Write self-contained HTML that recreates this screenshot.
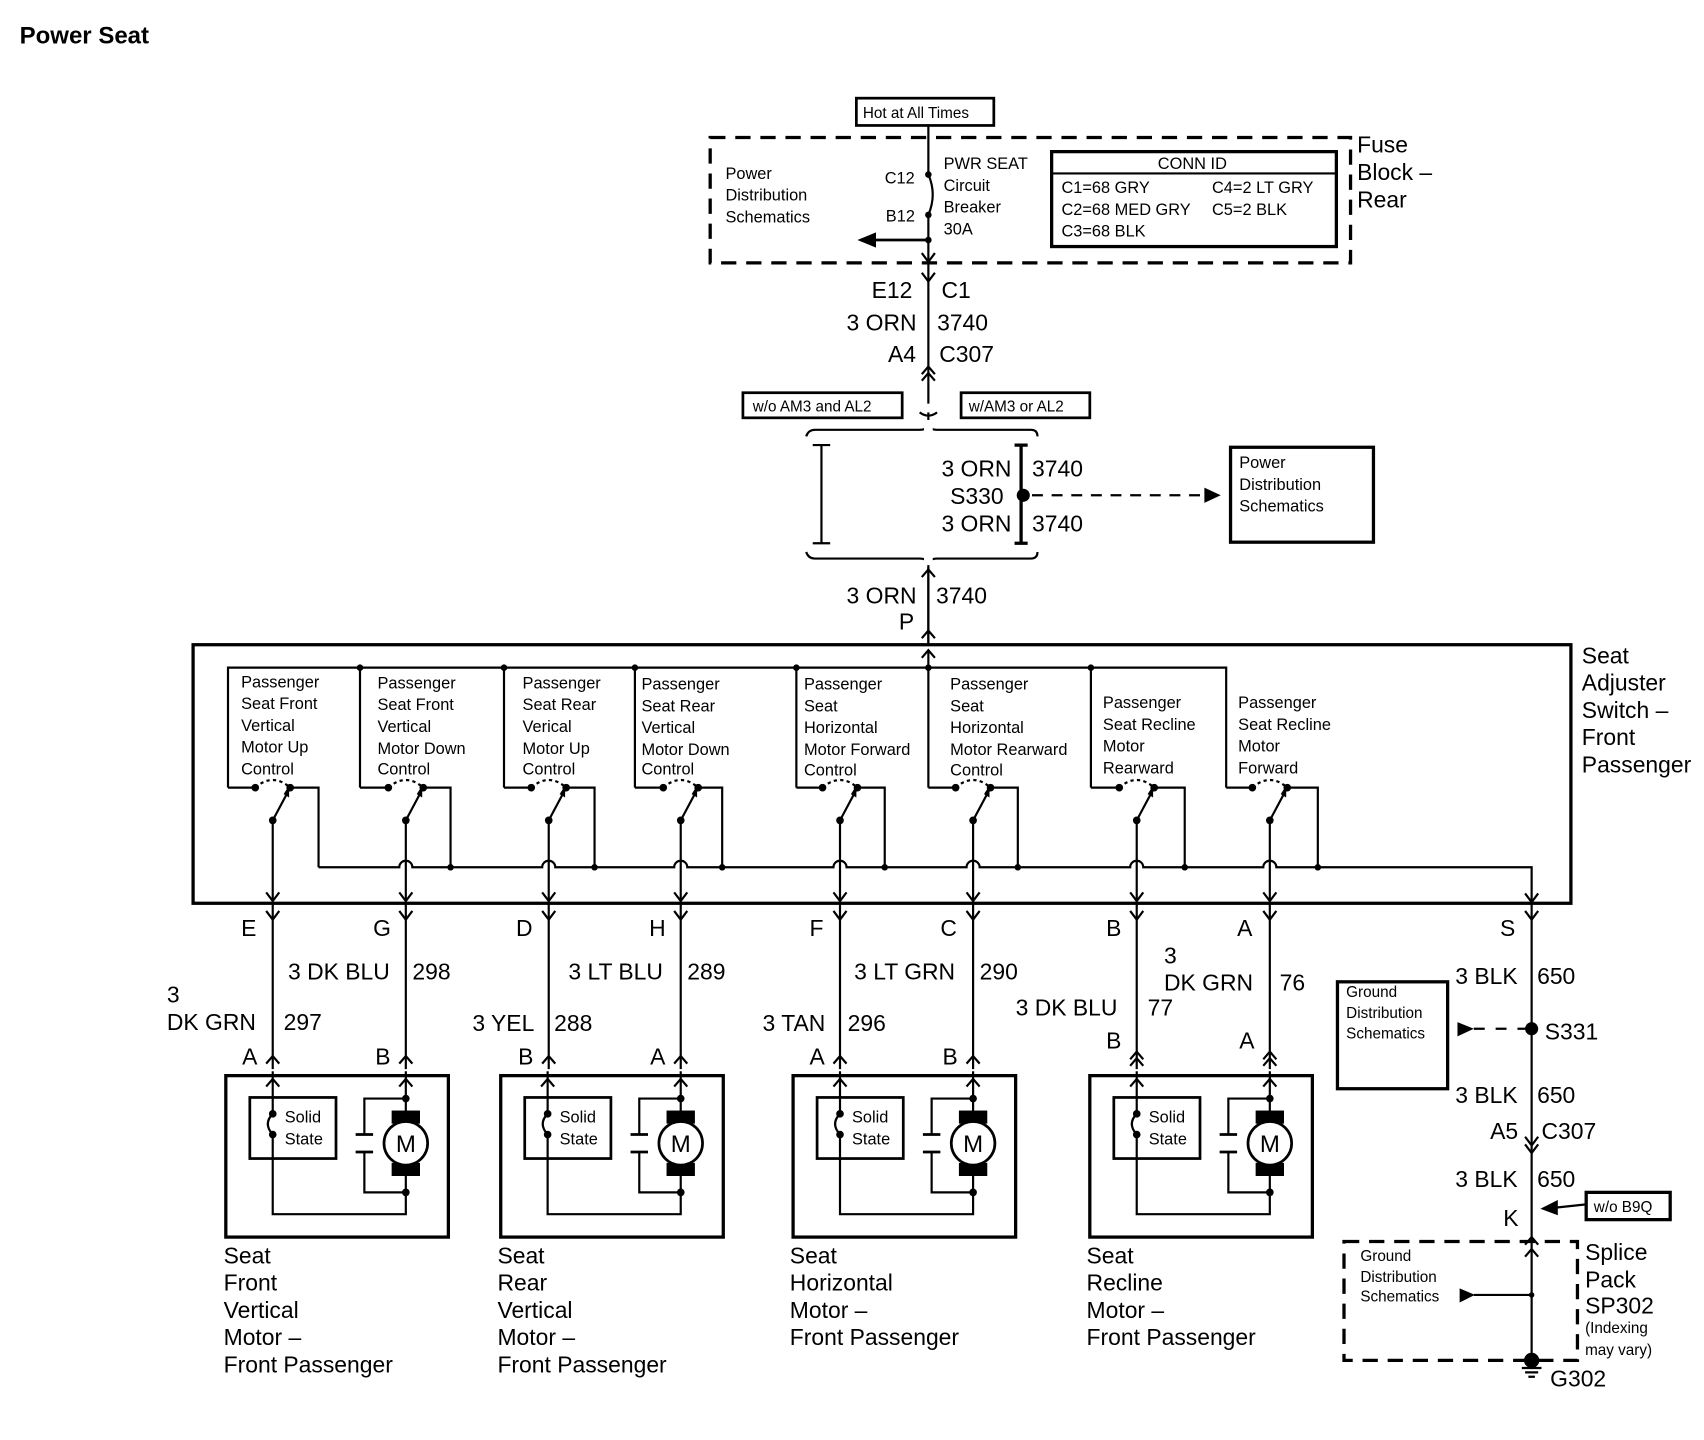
<!DOCTYPE html>
<html><head><meta charset="utf-8"><style>
html,body{margin:0;padding:0;background:#fff}
svg{display:block}
text{font-family:"Liberation Sans",Arial,sans-serif;fill:#000}
.s{font-size:15px}
.m{font-size:14px}
.L{font-size:21px}
</style></head><body>
<svg width="1704" height="1440" viewBox="0 0 1560 1320" xmlns="http://www.w3.org/2000/svg">
<defs>
<g id="sw">
 <line x1="16" y1="30" x2="32" y2="0" stroke="#000" stroke-width="2"/>
 <path d="M0 0 Q16 -14 32 0" fill="none" stroke="#000" stroke-width="2" stroke-dasharray="3,3"/>
 <circle cx="0" cy="0" r="3.5"/><circle cx="32" cy="0" r="3.5"/><circle cx="16" cy="30" r="3.5"/>
 <path d="M26 6 L31 -2 L31 9 Z"/>
 <line x1="16" y1="30" x2="16" y2="104" stroke="#000" stroke-width="2"/>
 <path d="M10 96 L16 104 L22 96" fill="none" stroke="#000" stroke-width="2"/>
</g>
<g id="fork"><path d="M-6 -8 L0 0 L6 -8" fill="none" stroke="#000" stroke-width="2"/></g>
<g id="chev"><path d="M-6 7 L0 0 L6 7" fill="none" stroke="#000" stroke-width="2"/></g>
<g id="motor">
 <rect x="0" y="0" width="204" height="148" fill="none" stroke="#000" stroke-width="3"/>
 <rect x="22" y="20" width="79" height="56" fill="none" stroke="#000" stroke-width="2.5"/>
 <line x1="43" y1="-4" x2="43" y2="35" stroke="#000" stroke-width="2"/>
 <circle cx="43" cy="35" r="3.5"/><circle cx="43" cy="54" r="3.5"/>
 <path d="M43 35 Q34 44 43 54" fill="none" stroke="#000" stroke-width="2"/>
 <polyline points="43,54 43,127 165,127 165,107" fill="none" stroke="#000" stroke-width="2"/>
 <path d="M37 10 L43 3 L49 10" fill="none" stroke="#000" stroke-width="2"/>
 <line x1="165" y1="-4" x2="165" y2="107" stroke="#000" stroke-width="2"/>
 <path d="M159 10 L165 3 L171 10" fill="none" stroke="#000" stroke-width="2"/>
 <circle cx="165" cy="21" r="3.5"/><circle cx="165" cy="107" r="3.5"/>
 <polyline points="165,21 127,21 127,54" fill="none" stroke="#000" stroke-width="2"/>
 <polyline points="127,70 127,107 165,107" fill="none" stroke="#000" stroke-width="2"/>
 <line x1="119" y1="54" x2="135" y2="54" stroke="#000" stroke-width="2.5"/>
 <line x1="119" y1="70" x2="135" y2="70" stroke="#000" stroke-width="2.5"/>
 <rect x="152" y="32" width="26" height="12"/><rect x="152" y="80" width="26" height="12"/>
 <circle cx="165" cy="62" r="20" fill="#fff" stroke="#000" stroke-width="2.5"/>
 <text x="165" y="70" font-size="22" text-anchor="middle">M</text>
 <text x="54" y="43" class="s">Solid</text><text x="54" y="63" class="s">State</text>
</g>
</defs>

<text x="17" y="40" font-size="22" font-weight="bold">Power Seat</text>

<!-- Fuse block -->
<rect x="784" y="90" width="126" height="25" fill="none" stroke="#000" stroke-width="2.5"/>
<text x="790" y="108" class="m">Hot at All Times</text>
<rect x="650" y="126" width="587" height="115" fill="none" stroke="#000" stroke-width="3" stroke-dasharray="14,9"/>
<line x1="850" y1="115" x2="850" y2="160" stroke="#000" stroke-width="2"/>
<circle cx="850" cy="160" r="3"/><circle cx="850" cy="197" r="3"/>
<path d="M850 160 Q858 178 850 197" fill="none" stroke="#000" stroke-width="2"/>
<line x1="850" y1="197" x2="850" y2="590" stroke="#000" stroke-width="2"/>
<circle cx="850" cy="220" r="3"/>
<line x1="800" y1="220" x2="850" y2="220" stroke="#000" stroke-width="2.5"/>
<path d="M785 220 L802 213 L802 227 Z"/>
<path d="M844 232 L850 240 L856 232" fill="none" stroke="#000" stroke-width="2"/>
<text x="664" y="164" class="s">Power</text><text x="664" y="184" class="s">Distribution</text><text x="664" y="204" class="s">Schematics</text>
<text x="810" y="168" class="s">C12</text><text x="811" y="203" class="s">B12</text>
<text x="864" y="155" class="s">PWR SEAT</text><text x="864" y="175" class="s">Circuit</text><text x="864" y="195" class="s">Breaker</text><text x="864" y="215" class="s">30A</text>
<rect x="963" y="139" width="261" height="87" fill="none" stroke="#000" stroke-width="3"/>
<line x1="963" y1="159" x2="1224" y2="159" stroke="#000" stroke-width="2"/>
<text x="1092" y="155" class="s" text-anchor="middle">CONN ID</text>
<text x="972" y="177" class="s">C1=68 GRY</text><text x="1110" y="177" class="s">C4=2 LT GRY</text>
<text x="972" y="197" class="s">C2=68 MED GRY</text><text x="1110" y="197" class="s">C5=2 BLK</text>
<text x="972" y="217" class="s">C3=68 BLK</text>
<text x="1243" y="140" class="L">Fuse</text><text x="1243" y="165" class="L">Block –</text><text x="1243" y="190" class="L">Rear</text>

<use href="#fork" x="850" y="258"/>
<text x="798" y="273" class="L">E12</text><text x="862" y="273" class="L">C1</text>
<text x="775" y="303" class="L">3 ORN</text><text x="858" y="303" class="L">3740</text>
<text x="813" y="332" class="L">A4</text><text x="860" y="332" class="L">C307</text>
<use href="#chev" x="850" y="336"/><use href="#chev" x="850" y="342"/>
<rect x="680" y="360" width="146" height="23" fill="none" stroke="#000" stroke-width="2.5"/>
<text x="689" y="377" class="m">w/o AM3 and AL2</text>
<rect x="880" y="360" width="118" height="23" fill="none" stroke="#000" stroke-width="2.5"/>
<text x="887" y="377" class="m">w/AM3 or AL2</text>
<path d="M842 378 Q850 384 858 378" fill="none" stroke="#000" stroke-width="2" />
<rect x="846" y="370" width="8" height="8" fill="#fff"/>

<!-- brace -->
<path d="M738 400 Q740 394 746 394 L842 394 Q850 394 850 388 Q850 394 858 394 L944 394 Q950 394 950 400" fill="none" stroke="#000" stroke-width="2"/>
<path d="M738 506 Q740 512 746 512 L842 512 Q850 512 850 518 Q850 512 858 512 L944 512 Q950 512 950 506" fill="none" stroke="#000" stroke-width="2"/>
<path d="M744 408 L760 408 M752 408 L752 498 M744 498 L760 498" fill="none" stroke="#000" stroke-width="2"/>
<path d="M929 408 L941 408 M935 408 L935 498 M929 498 L941 498" fill="none" stroke="#000" stroke-width="3"/>
<circle cx="937" cy="454" r="6"/>
<line x1="945" y1="454" x2="1105" y2="454" stroke="#000" stroke-width="2" stroke-dasharray="10,8"/>
<path d="M1118 454 L1103 447 L1103 461 Z"/>
<text x="862" y="437" class="L">3 ORN</text><text x="945" y="437" class="L">3740</text>
<text x="870" y="462" class="L">S330</text>
<text x="862" y="487" class="L">3 ORN</text><text x="945" y="487" class="L">3740</text>
<rect x="1127" y="410" width="131" height="87" fill="none" stroke="#000" stroke-width="3"/>
<text x="1135" y="429" class="s">Power</text><text x="1135" y="449" class="s">Distribution</text><text x="1135" y="469" class="s">Schematics</text>
<rect x="846" y="385" width="8" height="135" fill="#fff"/>
<line x1="850" y1="518" x2="850" y2="590" stroke="#000" stroke-width="2"/>
<use href="#chev" x="850" y="522"/>
<text x="775" y="553" class="L">3 ORN</text><text x="857" y="553" class="L">3740</text>
<text x="823" y="577" class="L">P</text>
<use href="#chev" x="850" y="578"/>

<!-- switch box -->
<rect x="176" y="591" width="1263" height="237" fill="none" stroke="#000" stroke-width="3"/>
<text x="1449" y="608" class="L">Seat</text><text x="1449" y="633" class="L">Adjuster</text><text x="1449" y="658" class="L">Switch –</text><text x="1449" y="683" class="L">Front</text><text x="1449" y="708" class="L">Passenger</text>
<line x1="850" y1="597" x2="850" y2="722" stroke="#000" stroke-width="2"/>
<path d="M844 603 L850 596 L856 603" fill="none" stroke="#000" stroke-width="2"/>
<polyline points="208,722 208,612 1123,612 1123,722" fill="none" stroke="#000" stroke-width="2"/>
<g stroke="#000" stroke-width="2" fill="none">
<line x1="329" y1="612" x2="329" y2="722"/><line x1="461" y1="612" x2="461" y2="722"/><line x1="581" y1="612" x2="581" y2="722"/><line x1="729" y1="612" x2="729" y2="722"/><line x1="999" y1="612" x2="999" y2="722"/>
<path d="M208 722H233 M329 722H355 M461 722H486 M581 722H607 M729 722H753 M850 722H875 M999 722H1025 M1123 722H1147"/>
<path d="M265 722H291V795 M387 722H412V795 M518 722H544V795 M639 722H661V795 M785 722H810V795 M907 722H932V795 M1057 722H1085V795 M1179 722H1207V795"/>
<path d="M291 795 H365 a6 6 0 0 1 12 0 H496 a6 6 0 0 1 12 0 H617 a6 6 0 0 1 12 0 H763 a6 6 0 0 1 12 0 H885 a6 6 0 0 1 12 0 H1035 a6 6 0 0 1 12 0 H1157 a6 6 0 0 1 12 0 H1403 V827"/>
<path d="M1397 819 L1403 827 L1409 819"/>
</g>
<g>
<circle cx="329" cy="612" r="3"/><circle cx="461" cy="612" r="3"/><circle cx="581" cy="612" r="3"/><circle cx="729" cy="612" r="3"/><circle cx="850" cy="612" r="3"/><circle cx="999" cy="612" r="3"/>
<circle cx="412" cy="795" r="3"/><circle cx="544" cy="795" r="3"/><circle cx="661" cy="795" r="3"/><circle cx="810" cy="795" r="3"/><circle cx="932" cy="795" r="3"/><circle cx="1085" cy="795" r="3"/><circle cx="1207" cy="795" r="3"/>
</g>
<use href="#sw" x="233" y="722"/><use href="#sw" x="355" y="722"/><use href="#sw" x="486" y="722"/><use href="#sw" x="607" y="722"/>
<use href="#sw" x="753" y="722"/><use href="#sw" x="875" y="722"/><use href="#sw" x="1025" y="722"/><use href="#sw" x="1147" y="722"/>
<g class="s">
<text x="220" y="630">Passenger</text><text x="220" y="650">Seat Front</text><text x="220" y="670">Vertical</text><text x="220" y="690">Motor Up</text><text x="220" y="710">Control</text>
<text x="345" y="631">Passenger</text><text x="345" y="651">Seat Front</text><text x="345" y="671">Vertical</text><text x="345" y="691">Motor Down</text><text x="345" y="710">Control</text>
<text x="478" y="631">Passenger</text><text x="478" y="651">Seat Rear</text><text x="478" y="671">Verical</text><text x="478" y="691">Motor Up</text><text x="478" y="710">Control</text>
<text x="587" y="632">Passenger</text><text x="587" y="652">Seat Rear</text><text x="587" y="672">Vertical</text><text x="587" y="692">Motor Down</text><text x="587" y="710">Control</text>
<text x="736" y="632">Passenger</text><text x="736" y="652">Seat</text><text x="736" y="672">Horizontal</text><text x="736" y="692">Motor Forward</text><text x="736" y="711">Control</text>
<text x="870" y="632">Passenger</text><text x="870" y="652">Seat</text><text x="870" y="672">Horizontal</text><text x="870" y="692">Motor Rearward</text><text x="870" y="711">Control</text>
<text x="1010" y="649">Passenger</text><text x="1010" y="669">Seat Recline</text><text x="1010" y="689">Motor</text><text x="1010" y="709">Rearward</text>
<text x="1134" y="649">Passenger</text><text x="1134" y="669">Seat Recline</text><text x="1134" y="689">Motor</text><text x="1134" y="709">Forward</text>
</g>

<!-- wires down -->
<g stroke="#000" stroke-width="2">
<line x1="249" y1="828" x2="249" y2="980"/><line x1="371" y1="828" x2="371" y2="980"/>
<line x1="502" y1="828" x2="502" y2="980"/><line x1="623" y1="828" x2="623" y2="980"/>
<line x1="769" y1="828" x2="769" y2="980"/><line x1="891" y1="828" x2="891" y2="980"/>
<line x1="1041" y1="828" x2="1041" y2="980"/><line x1="1163" y1="828" x2="1163" y2="980"/>
<line x1="1403" y1="828" x2="1403" y2="1247"/>
</g>
<use href="#fork" x="249" y="843"/><use href="#fork" x="371" y="843"/><use href="#fork" x="502" y="843"/><use href="#fork" x="623" y="843"/>
<use href="#fork" x="769" y="843"/><use href="#fork" x="891" y="843"/><use href="#fork" x="1041" y="843"/><use href="#fork" x="1163" y="843"/><use href="#fork" x="1403" y="843"/>
<g class="L">
<text x="220" y="858">E</text><text x="341" y="858">G</text><text x="472" y="858">D</text><text x="594" y="858">H</text><text x="741" y="858">F</text><text x="861" y="858">C</text><text x="1013" y="858">B</text><text x="1133" y="858">A</text><text x="1374" y="858">S</text>
<text x="152" y="919">3</text><text x="152" y="944">DK GRN</text><text x="259" y="944">297</text>
<text x="263" y="898">3 DK BLU</text><text x="377" y="898">298</text>
<text x="520" y="898">3 LT BLU</text><text x="629" y="898">289</text>
<text x="432" y="945">3 YEL</text><text x="507" y="945">288</text>
<text x="782" y="898">3 LT GRN</text><text x="897" y="898">290</text>
<text x="698" y="945">3 TAN</text><text x="776" y="945">296</text>
<text x="930" y="931">3 DK BLU</text><text x="1051" y="931">77</text>
<text x="1066" y="883">3</text><text x="1066" y="908">DK GRN</text><text x="1172" y="908">76</text>
<text x="221" y="976">A</text><text x="343" y="976">B</text><text x="474" y="976">B</text><text x="595" y="976">A</text>
<text x="741" y="976">A</text><text x="863" y="976">B</text><text x="1013" y="961">B</text><text x="1135" y="961">A</text>
</g>
<use href="#chev" x="249" y="968"/><use href="#chev" x="371" y="968"/><use href="#chev" x="502" y="968"/><use href="#chev" x="623" y="968"/>
<use href="#chev" x="769" y="968"/><use href="#chev" x="891" y="968"/><use href="#chev" x="1041" y="964"/><use href="#chev" x="1163" y="964"/>
<use href="#chev" x="1041" y="970"/><use href="#chev" x="1163" y="970"/>

<use href="#motor" x="206" y="986"/><use href="#motor" x="458" y="986"/><use href="#motor" x="726" y="986"/><use href="#motor" x="998" y="986"/>
<g class="L">
<text x="204" y="1158">Seat</text><text x="204" y="1183">Front</text><text x="204" y="1208">Vertical</text><text x="204" y="1233">Motor –</text><text x="204" y="1258">Front Passenger</text>
<text x="455" y="1158">Seat</text><text x="455" y="1183">Rear</text><text x="455" y="1208">Vertical</text><text x="455" y="1233">Motor –</text><text x="455" y="1258">Front Passenger</text>
<text x="723" y="1158">Seat</text><text x="723" y="1183">Horizontal</text><text x="723" y="1208">Motor –</text><text x="723" y="1233">Front Passenger</text>
<text x="995" y="1158">Seat</text><text x="995" y="1183">Recline</text><text x="995" y="1208">Motor –</text><text x="995" y="1233">Front Passenger</text>
</g>

<!-- ground -->
<text x="1333" y="902" class="L">3 BLK</text><text x="1408" y="902" class="L">650</text>
<rect x="1225" y="900" width="101" height="98" fill="none" stroke="#000" stroke-width="3"/>
<text x="1233" y="914" class="m">Ground</text><text x="1233" y="933" class="m">Distribution</text><text x="1233" y="952" class="m">Schematics</text>
<path d="M1335 937 L1350 943 L1335 950 Z"/>
<line x1="1350" y1="943" x2="1400" y2="943" stroke="#000" stroke-width="2" stroke-dasharray="10,10"/>
<circle cx="1403" cy="943" r="6"/>
<text x="1415" y="953" class="L">S331</text>
<text x="1333" y="1011" class="L">3 BLK</text><text x="1408" y="1011" class="L">650</text>
<text x="1365" y="1044" class="L">A5</text><text x="1412" y="1044" class="L">C307</text>
<path d="M1397 1042 L1403 1050 L1409 1042 M1397 1049 L1403 1057 L1409 1049" fill="none" stroke="#000" stroke-width="2"/>
<text x="1333" y="1088" class="L">3 BLK</text><text x="1408" y="1088" class="L">650</text>
<text x="1377" y="1124" class="L">K</text>
<rect x="1453" y="1093" width="77" height="25" fill="none" stroke="#000" stroke-width="3"/>
<text x="1460" y="1111" class="m">w/o B9Q</text>
<line x1="1453" y1="1104" x2="1425" y2="1107" stroke="#000" stroke-width="2"/>
<path d="M1411 1108 L1427 1100 L1427 1114 Z"/>
<use href="#chev" x="1403" y="1134"/>
<rect x="1231" y="1138" width="214" height="109" fill="none" stroke="#000" stroke-width="3" stroke-dasharray="14,9"/>
<use href="#chev" x="1403" y="1145"/>
<text x="1246" y="1156" class="m">Ground</text><text x="1246" y="1175" class="m">Distribution</text><text x="1246" y="1193" class="m">Schematics</text>
<path d="M1337 1181 L1351 1187 L1337 1194 Z"/>
<line x1="1350" y1="1187" x2="1403" y2="1187" stroke="#000" stroke-width="2"/>
<circle cx="1403" cy="1187" r="2.5"/>
<circle cx="1403" cy="1247" r="7"/>
<path d="M1394 1254 H1412 M1397 1258 H1409 M1400 1262 H1406" stroke="#000" stroke-width="2"/>
<text x="1420" y="1271" class="L">G302</text>
<text x="1452" y="1155" class="L">Splice</text><text x="1452" y="1180" class="L">Pack</text><text x="1452" y="1204" class="L">SP302</text>
<text x="1452" y="1222" class="m">(Indexing</text><text x="1452" y="1242" class="m">may vary)</text>
</svg>
</body></html>
